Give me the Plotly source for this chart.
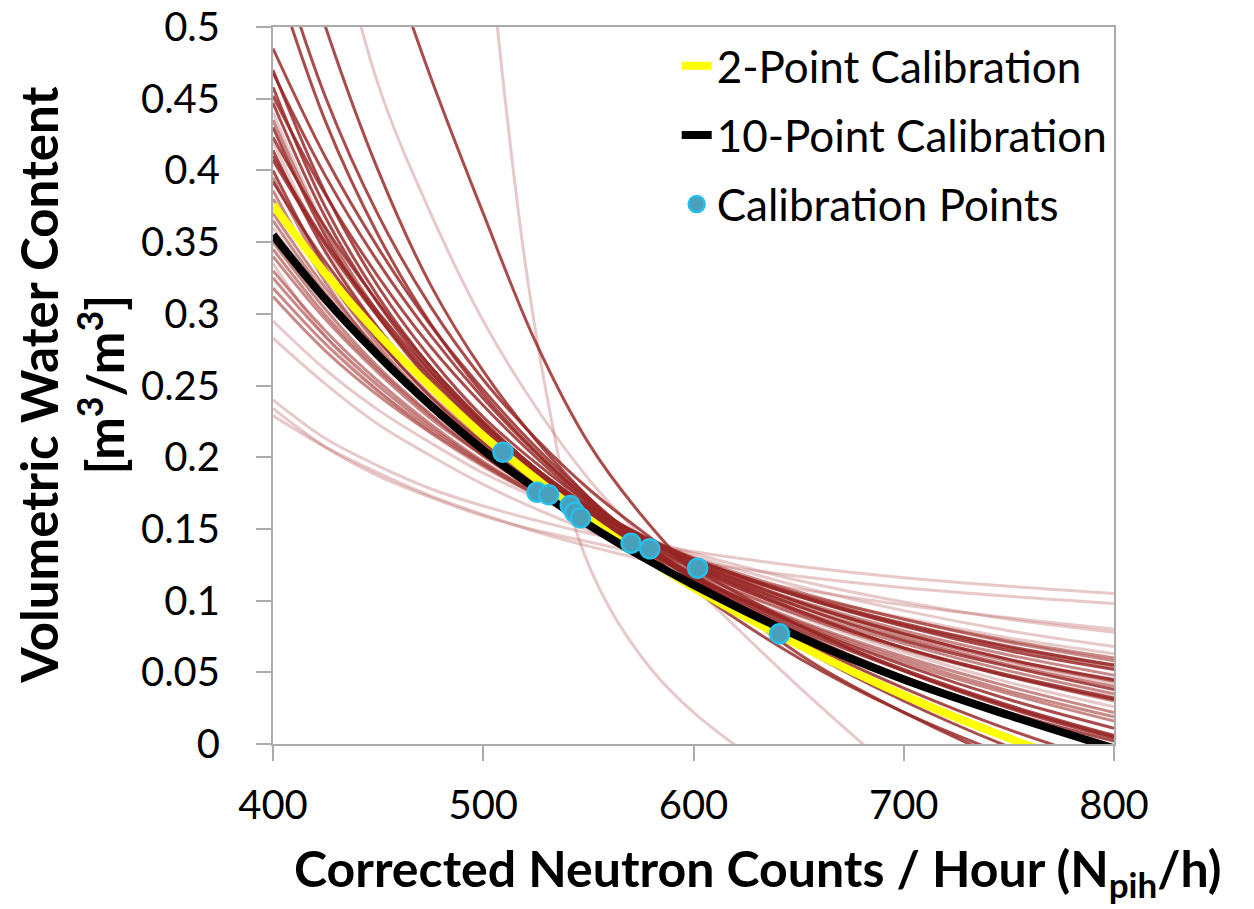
import plotly.graph_objects as go

# ---------------- data ----------------
x_grid = [400, 425, 450, 475, 500, 525, 550, 575, 600, 650, 700, 750, 800]

# individual calibration curves sampled on x_grid (volumetric water content)
f1 = [0.240, 0.213, 0.194, 0.178, 0.166, 0.156, 0.147, 0.140, 0.134, 0.124, 0.116, 0.110, 0.105]
f2 = [0.234, 0.207, 0.187, 0.172, 0.159, 0.149, 0.141, 0.133, 0.127, 0.117, 0.109, 0.103, 0.098]
f3 = [0.229, 0.207, 0.189, 0.173, 0.160, 0.148, 0.138, 0.129, 0.121, 0.108, 0.097, 0.088, 0.080]
p1 = [0.295, 0.261, 0.233, 0.210, 0.189, 0.172, 0.156, 0.143, 0.131, 0.110, 0.093, 0.079, 0.068]
p2 = [0.283, 0.251, 0.223, 0.201, 0.181, 0.164, 0.149, 0.136, 0.124, 0.104, 0.088, 0.074, 0.063]
m1 = [0.312, 0.274, 0.243, 0.217, 0.194, 0.174, 0.157, 0.142, 0.128, 0.105, 0.087, 0.071, 0.058]
m2 = [0.318, 0.279, 0.246, 0.219, 0.195, 0.174, 0.157, 0.141, 0.127, 0.103, 0.083, 0.067, 0.053]
m3 = [0.325, 0.284, 0.250, 0.221, 0.196, 0.175, 0.156, 0.139, 0.125, 0.100, 0.079, 0.062, 0.048]
m4 = [0.330, 0.288, 0.253, 0.223, 0.197, 0.175, 0.156, 0.139, 0.123, 0.098, 0.077, 0.059, 0.044]
m5 = [0.340, 0.296, 0.259, 0.227, 0.201, 0.177, 0.157, 0.139, 0.123, 0.096, 0.074, 0.055, 0.040]
m6 = [0.345, 0.299, 0.261, 0.229, 0.201, 0.177, 0.156, 0.138, 0.121, 0.093, 0.070, 0.051, 0.035]
m7 = [0.350, 0.303, 0.263, 0.230, 0.201, 0.177, 0.155, 0.136, 0.119, 0.090, 0.066, 0.047, 0.030]
m8 = [0.360, 0.311, 0.270, 0.235, 0.205, 0.179, 0.157, 0.137, 0.119, 0.089, 0.064, 0.043, 0.026]
m9 = [0.365, 0.314, 0.272, 0.236, 0.206, 0.179, 0.156, 0.136, 0.117, 0.086, 0.061, 0.040, 0.022]
m10 = [0.370, 0.318, 0.275, 0.238, 0.207, 0.180, 0.156, 0.135, 0.116, 0.085, 0.059, 0.037, 0.019]
m11 = [0.335, 0.284, 0.247, 0.217, 0.193, 0.174, 0.158, 0.144, 0.133, 0.114, 0.099, 0.087, 0.078]
u1 = [0.485, 0.409, 0.346, 0.292, 0.247, 0.207, 0.172, 0.141, 0.114, 0.068, 0.030, -0.002, -0.029]
u2 = [0.470, 0.384, 0.319, 0.269, 0.228, 0.196, 0.168, 0.145, 0.125, 0.093, 0.067, 0.047, 0.031]
u3 = [0.468, 0.396, 0.336, 0.285, 0.241, 0.203, 0.170, 0.141, 0.115, 0.071, 0.035, 0.004, -0.021]
u4 = [0.458, 0.374, 0.312, 0.263, 0.224, 0.192, 0.165, 0.143, 0.123, 0.092, 0.067, 0.048, 0.032]
u5 = [0.447, 0.367, 0.307, 0.260, 0.222, 0.192, 0.166, 0.144, 0.126, 0.096, 0.072, 0.054, 0.038]
u6 = [0.440, 0.360, 0.300, 0.253, 0.216, 0.186, 0.160, 0.139, 0.120, 0.090, 0.067, 0.048, 0.033]
u7 = [0.430, 0.354, 0.298, 0.253, 0.218, 0.189, 0.165, 0.145, 0.127, 0.099, 0.077, 0.059, 0.045]
u8 = [0.423, 0.360, 0.308, 0.263, 0.225, 0.192, 0.163, 0.138, 0.115, 0.076, 0.045, 0.019, -0.004]
u9 = [0.420, 0.346, 0.290, 0.247, 0.212, 0.184, 0.160, 0.140, 0.123, 0.095, 0.073, 0.056, 0.042]
u10 = [0.414, 0.343, 0.290, 0.248, 0.215, 0.188, 0.165, 0.146, 0.129, 0.103, 0.082, 0.065, 0.052]
u11 = [0.407, 0.348, 0.298, 0.256, 0.220, 0.189, 0.162, 0.138, 0.117, 0.080, 0.051, 0.026, 0.005]
u12 = [0.400, 0.332, 0.282, 0.242, 0.210, 0.185, 0.163, 0.145, 0.129, 0.104, 0.084, 0.068, 0.055]
u13 = [0.392, 0.336, 0.289, 0.249, 0.215, 0.186, 0.160, 0.137, 0.117, 0.083, 0.055, 0.031, 0.011]
u14 = [0.386, 0.322, 0.274, 0.237, 0.207, 0.182, 0.162, 0.145, 0.130, 0.106, 0.087, 0.072, 0.060]
u15 = [0.380, 0.326, 0.281, 0.243, 0.211, 0.183, 0.158, 0.136, 0.117, 0.084, 0.057, 0.035, 0.016]
u16 = [0.452, 0.383, 0.326, 0.277, 0.236, 0.200, 0.168, 0.140, 0.115, 0.073, 0.039, 0.010, -0.014]
u17 = [0.435, 0.358, 0.301, 0.256, 0.220, 0.191, 0.166, 0.145, 0.128, 0.099, 0.076, 0.058, 0.044]
u18 = [0.410, 0.350, 0.301, 0.259, 0.223, 0.191, 0.164, 0.140, 0.118, 0.082, 0.052, 0.027, 0.006]
u19 = [0.395, 0.328, 0.278, 0.239, 0.208, 0.182, 0.161, 0.143, 0.128, 0.103, 0.083, 0.067, 0.055]
d1 = [0.800, 0.680, 0.570, 0.465, 0.370, 0.280, 0.210, 0.160, 0.120, 0.063, 0.022, -0.012, -0.040]
d2 = [0.620, 0.500, 0.400, 0.320, 0.260, 0.212, 0.172, 0.138, 0.108, 0.060, 0.022, -0.008, -0.032]
d3 = [0.540, 0.434, 0.355, 0.293, 0.244, 0.204, 0.170, 0.142, 0.117, 0.078, 0.047, 0.022, 0.002]
d4 = [0.560, 0.451, 0.369, 0.305, 0.254, 0.213, 0.178, 0.149, 0.123, 0.083, 0.051, 0.025, 0.004]

# steep curves sampled on their own x positions
s1_x = [500, 510, 520, 530, 545, 560, 580, 600, 620]
s1_y = [0.600, 0.455, 0.335, 0.245, 0.145, 0.095, 0.052, 0.022, -0.001]
s2_x = [425, 450, 475, 500, 525, 550, 575, 600, 650, 700]
s2_y = [0.600, 0.460, 0.370, 0.295, 0.235, 0.185, 0.145, 0.110, 0.040, -0.025]

# fitted calibration functions
two_point = [0.376, 0.328, 0.286, 0.249, 0.215, 0.185, 0.157, 0.132, 0.109, 0.069, 0.034, 0.004, -0.022]
ten_point = [0.355, 0.310, 0.271, 0.236, 0.205, 0.178, 0.153, 0.131, 0.111, 0.075, 0.045, 0.020, -0.003]

# calibration points
cal_x = [509.4, 525.6, 531.1, 541.4, 543.5, 546.2, 570.3, 579.2, 602.0, 640.9]
cal_y = [0.2035, 0.1756, 0.1738, 0.1663, 0.1616, 0.1577, 0.140, 0.1361, 0.1226, 0.0768]

y_ticks = [0, 0.05, 0.1, 0.15, 0.2, 0.25, 0.3, 0.35, 0.4, 0.45, 0.5]
y_tick_text = ["0", "0.05", "0.1", "0.15", "0.2", "0.25", "0.3", "0.35", "0.4", "0.45", "0.5"]
x_ticks = [400, 500, 600, 700, 800]

# ---------------- styling ----------------
pale = "rgba(190,100,100,0.35)"
mid = "rgba(165,58,55,0.6)"
dark = "rgba(150,38,36,0.82)"

pale_curves = [f1, f2, f3, p1, p2, m8, m11, u6, u9]
mid_curves = [m1, m2, m3, m4, m5, m6, m7, m9, m10, u14, u15, u17, u19]
dark_curves = [u1, u2, u3, u4, u5, u7, u8, u10, u11, u12, u13, u16, u18, d1, d2, d3, d4]

fig = go.Figure()

def add_curve(xs, ys, color):
    fig.add_trace(go.Scatter(x=xs, y=ys, mode="lines", line=dict(color=color, width=3, shape="spline"),
                             showlegend=False, hoverinfo="skip"))

for c in pale_curves:
    add_curve(x_grid, c, pale)
add_curve(s1_x, s1_y, pale)
add_curve(s2_x, s2_y, pale)
for c in mid_curves:
    add_curve(x_grid, c, mid)
for c in dark_curves:
    add_curve(x_grid, c, dark)

fig.add_trace(go.Scatter(x=x_grid, y=two_point, mode="lines", name="2-Point Calibration",
                         line=dict(color="#FFFF00", width=8, shape="spline"), legendgroup="a"))
fig.add_trace(go.Scatter(x=x_grid, y=ten_point, mode="lines", name="10-Point Calibration",
                         line=dict(color="#000000", width=8, shape="spline"), legendgroup="b"))
fig.add_trace(go.Scatter(x=cal_x, y=cal_y, mode="markers", name="Calibration Points",
                         marker=dict(size=19, color="rgb(72,160,188)", line=dict(color="rgb(40,190,232)", width=2.5)),
                         legendgroup="c"))

axis_line = "#ABABAB"
fig.update_xaxes(range=[400, 800], tickvals=x_ticks, showgrid=False, zeroline=False,
                 showline=True, linecolor=axis_line, linewidth=2, mirror=True,
                 ticks="outside", ticklen=15, tickwidth=2, tickcolor=axis_line,
                 ticklabelstandoff=10, automargin=False,
                 tickfont=dict(family="Lato", size=40, color="black"))
fig.update_yaxes(range=[0, 0.5], tickvals=y_ticks, ticktext=y_tick_text, showgrid=False, zeroline=False,
                 showline=True, linecolor=axis_line, linewidth=2, mirror=True,
                 ticks="outside", ticklen=15, tickwidth=2, tickcolor=axis_line,
                 ticklabelstandoff=28, automargin=False,
                 tickfont=dict(family="Lato", size=40, color="black"))

fig.add_annotation(text="<b>Volumetric Water Content<br>[m<sup>3</sup>/m<sup>3</sup>]</b>",
                   xref="paper", yref="paper", x=-0.24, y=0.5, textangle=-90,
                   xanchor="center", yanchor="middle", showarrow=False,
                   font=dict(family="Lato", size=51, color="black"))
fig.add_annotation(text="<b>Corrected Neutron Counts / Hour (N<sub>pih</sub>/h)</b>",
                   xref="paper", yref="paper", x=0.577, y=-0.178,
                   xanchor="center", yanchor="middle", showarrow=False,
                   font=dict(family="Lato", size=50, color="black"))

fig.update_layout(
    width=1254, height=909,
    margin=dict(l=273, r=140, t=27, b=165),
    paper_bgcolor="white", plot_bgcolor="white",
    legend=dict(x=0.48, y=0.995, xanchor="left", yanchor="top",
                font=dict(family="Lato", size=44, color="black"),
                bgcolor="rgba(0,0,0,0)", traceorder="grouped", tracegroupgap=9),
)

fig.write_html("out.html")
